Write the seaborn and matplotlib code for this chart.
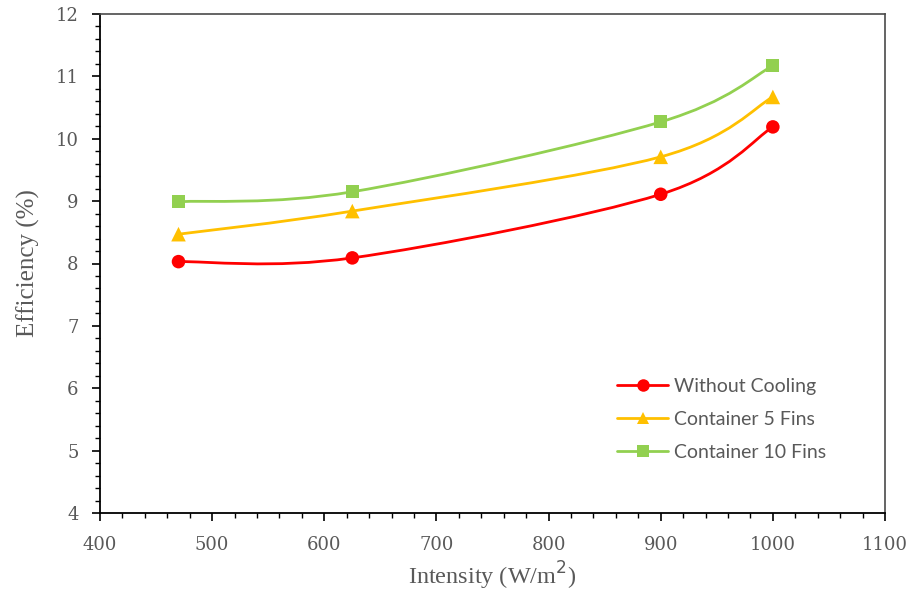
import numpy as np
import matplotlib
matplotlib.use("Agg")
import matplotlib.pyplot as plt
import seaborn as sns
from matplotlib.path import Path
from matplotlib.patches import PathPatch
from matplotlib.lines import Line2D
from matplotlib.ticker import MultipleLocator

# ----- data -----
intensity = [470, 625, 900, 1000]
without_cooling = [8.03, 8.09, 9.11, 10.19]
container_5_fins = [8.47, 8.84, 9.71, 10.67]
container_10_fins = [8.99, 9.15, 10.27, 11.17]

series_names = ["Without Cooling", "Container 5 Fins", "Container 10 Fins"]
series_values = [without_cooling, container_5_fins, container_10_fins]
colors = ["#FF0000", "#FFC000", "#92D050"]
markers = ["o", "^", "s"]
marker_sizes = [95, 110, 90]

sns.set_theme(style="white")
plt.rcParams["font.family"] = ["Liberation Serif", "DejaVu Serif"]

fig = plt.figure(figsize=(9.09, 5.90), dpi=100)
ax = fig.add_axes([100 / 909, 77 / 590, 785 / 909, 499 / 590])


def smooth_path(xs, ys):
    # Excel-style smoothed line: cubic Bezier through the points
    pts = np.column_stack([xs, ys]).astype(float)
    n = len(pts)
    verts = [pts[0]]
    codes = [Path.MOVETO]
    for i in range(n - 1):
        p0 = pts[max(i - 1, 0)]
        p1 = pts[i]
        p2 = pts[i + 1]
        p3 = pts[min(i + 2, n - 1)]
        c1 = p1 + (p2 - p0) / 6.0
        c2 = p2 - (p3 - p1) / 6.0
        verts += [c1, c2, p2]
        codes += [Path.CURVE4] * 3
    return Path(verts, codes)


handles = []
for name, vals, c, m, ms in zip(series_names, series_values, colors, markers, marker_sizes):
    ax.add_patch(PathPatch(smooth_path(intensity, vals), facecolor="none",
                           edgecolor=c, lw=2, zorder=2))
    sns.scatterplot(x=intensity, y=vals, marker=m, color=c, s=ms,
                    edgecolor="none", ax=ax, zorder=3)
    handles.append(Line2D([0], [0], color=c, lw=2, marker=m,
                          markersize=9 if m == "o" else 8,
                          markeredgewidth=0, label=name))

ax.set_xlim(400, 1100)
ax.set_ylim(4, 12)
ax.xaxis.set_major_locator(MultipleLocator(100))
ax.xaxis.set_minor_locator(MultipleLocator(20))
ax.yaxis.set_major_locator(MultipleLocator(1))
ax.yaxis.set_minor_locator(MultipleLocator(0.2))

# full box: grey top/right, black left/bottom
for side in ["top", "right"]:
    ax.spines[side].set_visible(True)
    ax.spines[side].set_color("#4a4a4a")
    ax.spines[side].set_linewidth(1.2)
for side in ["left", "bottom"]:
    ax.spines[side].set_visible(True)
    ax.spines[side].set_color("black")
    ax.spines[side].set_linewidth(1.3)

ax.tick_params(axis="both", which="major", direction="out", length=5.5,
               width=1.2, color="black", labelcolor="#595959",
               left=True, bottom=True)
ax.tick_params(axis="both", which="minor", direction="out", length=3.5,
               width=1.0, color="black", left=True, bottom=True)
ax.tick_params(axis="x", which="major", pad=11)
ax.tick_params(axis="y", which="major", pad=10)
for lab in ax.get_xticklabels() + ax.get_yticklabels():
    lab.set_family("DejaVu Serif")
    lab.set_fontsize(13)

ax.set_xlabel("Intensity (W/m$^2$)", fontsize=17.5, color="#595959", labelpad=4)
ax.set_ylabel("Efficiency (%)", fontsize=18, color="#595959", labelpad=11)

leg = ax.legend(handles=handles, loc="upper left", bbox_to_anchor=(0.659, 0.27),
                frameon=False, prop={"family": "Lato", "size": 14},
                labelcolor="#595959", handlelength=2.6, labelspacing=0.82,
                handletextpad=0.3, borderpad=0, borderaxespad=0)

fig.savefig("out.png", dpi=100)
